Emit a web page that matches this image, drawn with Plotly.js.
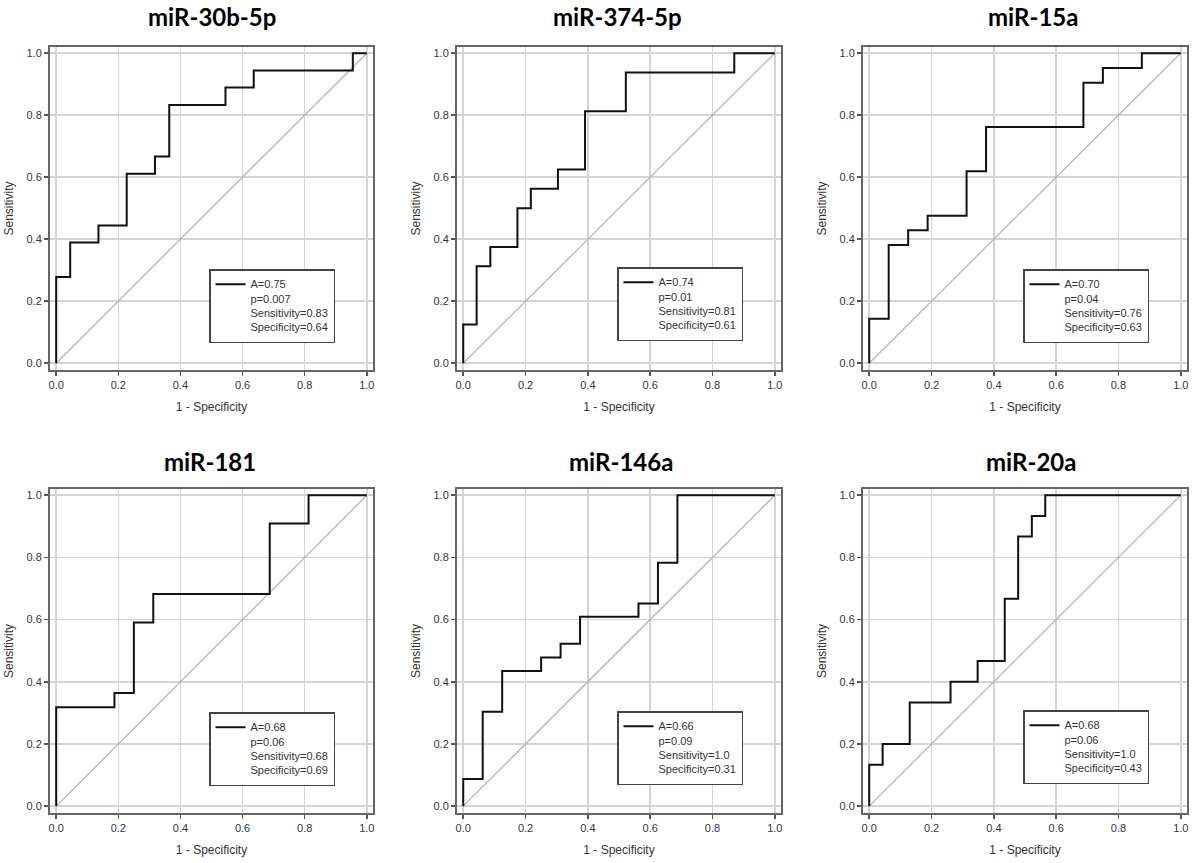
<!DOCTYPE html>
<html>
<head>
<meta charset="utf-8">
<script src="https://cdn.plot.ly/plotly-3.0.1.min.js"></script>
<style>
  html, body { margin: 0; padding: 0; background: #ffffff; }
  #chart { width: 1192px; height: 863px; }
</style>
</head>
<body>
<div id="chart"></div>
<script>
// ---- data ----
const panelTitles = ["miR-30b-5p", "miR-374-5p", "miR-15a", "miR-181", "miR-146a", "miR-20a"];

const fpr30b = [0, 0, 0.045, 0.136, 0.227, 0.318, 0.364, 0.545, 0.636, 0.955, 1];
const tpr30b = [0, 0.278, 0.389, 0.444, 0.611, 0.667, 0.833, 0.889, 0.944, 1, 1];

const fpr374 = [0, 0, 0.043, 0.087, 0.174, 0.217, 0.304, 0.391, 0.522, 0.870, 1];
const tpr374 = [0, 0.125, 0.3125, 0.375, 0.5, 0.5625, 0.625, 0.8125, 0.9375, 1, 1];

const fpr15a = [0, 0, 0.0625, 0.125, 0.1875, 0.3125, 0.375, 0.6875, 0.75, 0.875, 1];
const tpr15a = [0, 0.143, 0.381, 0.429, 0.476, 0.619, 0.762, 0.905, 0.952, 1, 1];

const fpr181 = [0, 0, 0.1875, 0.25, 0.3125, 0.6875, 0.8125, 1];
const tpr181 = [0, 0.318, 0.364, 0.591, 0.682, 0.909, 1, 1];

const fpr146a = [0, 0, 0.0625, 0.125, 0.25, 0.3125, 0.375, 0.5625, 0.625, 0.6875, 1];
const tpr146a = [0, 0.087, 0.304, 0.435, 0.478, 0.522, 0.609, 0.652, 0.783, 1, 1];

const fpr20a = [0, 0, 0.043, 0.130, 0.261, 0.348, 0.435, 0.478, 0.522, 0.565, 1];
const tpr20a = [0, 0.133, 0.2, 0.333, 0.4, 0.467, 0.667, 0.867, 0.933, 1, 1];

const aucLabels  = ["0.75", "0.74", "0.70", "0.68", "0.66", "0.68"];
const pLabels    = ["0.007", "0.01", "0.04", "0.06", "0.09", "0.06"];
const sensLabels = ["0.83", "0.81", "0.76", "0.68", "1.0", "1.0"];
const specLabels = ["0.64", "0.61", "0.63", "0.69", "0.31", "0.43"];

const chanceLine = [0, 1];
const tickVals = [0, 0.2, 0.4, 0.6, 0.8, 1.0];
const tickText = ["0.0", "0.2", "0.4", "0.6", "0.8", "1.0"];

const fprs = [fpr30b, fpr374, fpr15a, fpr181, fpr146a, fpr20a];
const tprs = [tpr30b, tpr374, tpr15a, tpr181, tpr146a, tpr20a];

// ---- layout geometry ----
const W = 1192, H = 863;
const colPx = [[50, 373], [457, 781], [863, 1187]];
const rowPx = [[47, 370], [489, 813]];
const titleCx = [212, 617, 1033, 210, 621, 1031];
const titleCy = [17, 461];
const legendPos = [[209, 269], [617, 267], [1023, 269], [209, 712], [617, 711], [1023, 710]];

const traces = [];
const layout = {
  width: W, height: H,
  margin: {l: 0, r: 0, t: 0, b: 0},
  paper_bgcolor: "#ffffff",
  plot_bgcolor: "#ffffff",
  font: {family: "Arial, 'Liberation Sans', sans-serif", color: "#333333", size: 11},
  annotations: [],
  showlegend: true
};

for (let i = 0; i < 6; i++) {
  const k = i + 1;
  const xs = k === 1 ? "x" : "x" + k;
  const ys = k === 1 ? "y" : "y" + k;
  const lg = k === 1 ? "legend" : "legend" + k;
  const col = i % 3, row = Math.floor(i / 3);

  traces.push({
    x: chanceLine, y: chanceLine, xaxis: xs, yaxis: ys,
    mode: "lines", line: {color: "#b5b5b5", width: 1.3},
    showlegend: false, hoverinfo: "skip"
  });
  traces.push({
    x: fprs[i], y: tprs[i], xaxis: xs, yaxis: ys,
    mode: "lines", line: {color: "#111111", width: 2, shape: "hv"},
    name: "A=" + aucLabels[i] + "<br>p=" + pLabels[i] + "<br>Sensitivity=" + sensLabels[i] + "<br>Specificity=" + specLabels[i],
    legend: lg, showlegend: true
  });

  const axCommon = {
    range: [-0.02, 1.02],
    tickvals: tickVals, ticktext: tickText,
    ticks: "outside", ticklen: 4, tickwidth: 1.5, tickcolor: "#555555",
    showline: true, mirror: true, linecolor: "#666666", linewidth: 2,
    showgrid: true, gridcolor: "#d4d4d4", gridwidth: 1.5,
    zeroline: false, fixedrange: true,
    tickfont: {size: 11, color: "#333344", family: "Arial, 'Liberation Sans', sans-serif"}
  };
  layout[k === 1 ? "xaxis" : "xaxis" + k] = Object.assign({}, axCommon, {
    domain: [colPx[col][0] / W, colPx[col][1] / W],
    anchor: ys,
    title: {text: "1 - Specificity", font: {size: 12, color: "#333333"}, standoff: 12}
  });
  layout[k === 1 ? "yaxis" : "yaxis" + k] = Object.assign({}, axCommon, {
    range: [-0.022, 1.02],
    domain: [1 - rowPx[row][1] / H, 1 - rowPx[row][0] / H],
    anchor: xs,
    title: {text: "Sensitivity", font: {size: 12, color: "#333333"}, standoff: 10}
  });
  layout[lg] = {
    x: legendPos[i][0] / W, y: 1 - legendPos[i][1] / H,
    xanchor: "left", yanchor: "top",
    bgcolor: "#ffffff", bordercolor: "#444444", borderwidth: 1.5,
    font: {size: 11, color: "#333333", family: "Arial, 'Liberation Sans', sans-serif"},
    valign: "top", itemwidth: 30, tracegroupgap: 0
  };
  layout.annotations.push({
    text: panelTitles[i], xref: "paper", yref: "paper",
    x: titleCx[i] / W, y: 1 - titleCy[row] / H,
    xanchor: "center", yanchor: "middle", showarrow: false,
    font: {family: "Lato, 'Open Sans', sans-serif", size: 24, color: "#000000", weight: 700}
  });
}

Plotly.newPlot("chart", traces, layout, {staticPlot: true, displayModeBar: false});
</script>
</body>
</html>
